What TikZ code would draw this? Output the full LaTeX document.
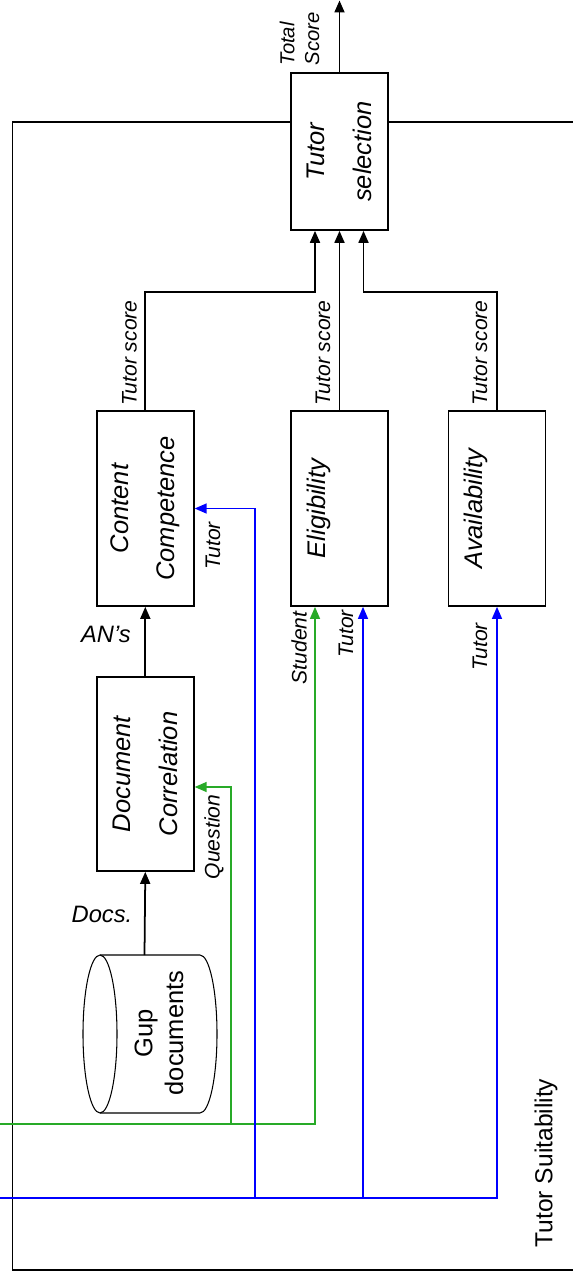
\documentclass[tikz,border=0pt]{standalone}
\usepackage{fontspec}
\setmainfont{Liberation Sans}
\usetikzlibrary{arrows.meta,calc}
\tikzset{
	blk/.style={draw, line width=1pt, minimum width=1.94cm, inner sep=0pt},
	boxtxt/.style={rotate=90, align=center, font=\fontsize{14.5}{26.5}\selectfont\itshape},
	lab/.style={rotate=90, inner sep=0pt, font=\fontsize{12}{14}\selectfont\itshape},
	hlab/.style={inner sep=0pt, font=\fontsize{13.5}{16}\selectfont\itshape},
	arr/.style={-{Triangle[length=2.4mm, width=2mm]}},
	flow/.style={line width=1pt},
	tline/.style={line width=0.8pt, color=tutorblue},
	sline/.style={line width=0.8pt, color=studgreen}
	}
\definecolor{tutorblue}{RGB}{0,0,255}
\definecolor{studgreen}{RGB}{40,170,40}

\begin{document}
\begin{tikzpicture}[x=0.02cm, y=-0.02cm]

	\useasboundingbox (0,0) rectangle (573,1278);

	% blocks
	\node[blk, minimum height=3.14cm, label={[boxtxt]center:Tutor\\selection}] (ts) at (339.5,151.5) {};
	\node[blk, minimum height=3.9cm, label={[boxtxt]center:Content\\Competence}] (cc) at (145.3,508.5) {};
	\node[blk, minimum height=3.9cm, label={[boxtxt]center:Eligibility\\\mbox{}}] (elig) at (339.5,508.5) {};
	\node[blk, minimum height=3.9cm, label={[boxtxt]center:Availability\\\mbox{}}] (avail) at (497,508.5) {};
	\node[blk, minimum height=3.88cm, label={[boxtxt]center:Document\\Correlation}] (dc) at (145.3,774) {};

	% cylinder for the documents
	\draw[line width=0.6pt] (100,1034) ellipse (17 and 79);
	\draw[line width=0.6pt] (100,955) -- (200,955) arc[start angle=-90, end angle=90, x radius=17, y radius=79] -- (100,1113);
	\node[rotate=90, align=center, font=\fontsize{14.5}{17.5}\selectfont] (gup) at (159,1033) {Gup\\documents};
	\coordinate (gupTop) at (144.5,955);

	% frame
	\coordinate (fTL) at (12.5,122);
	\coordinate (fBL) at (12.5,1270);
	\coordinate (fBR) at (573,1270);
	\coordinate (fTR) at (573,122);
	\draw[flow] (fTL -| ts.west) -- (fTL) -- (fBL) -- (fBR);
	\draw[flow] (fTR -| ts.east) -- (fTR);

	% black flow
	\coordinate (out) at (339.5,0.5);
	\draw[flow, arr] (ts.north) -- (out);
	\draw[flow, arr] (cc.north) |- ($(ts.south)+(-24.5,61)$) -- ($(ts.south)+(-24.5,0)$);
	\draw[flow, arr] (elig.north) -- (ts.south);
	\draw[flow, arr] (avail.north) |- ($(ts.south)+(24,61)$) -- ($(ts.south)+(24,0)$);
	\draw[flow, arr] (dc.north) -- (cc.south);
	\draw[flow, arr] (gupTop) -- (dc.south);

	% student input (green)
	\coordinate (stuIn) at (0,1124);
	\coordinate (gq) at (231,1124);
	\draw[sline, arr] (stuIn) -| ($(elig.south)+(-24.5,0)$);
	\draw[sline, arr] (gq) |- ($(dc.east)+(0,13)$);

	% tutor input (blue)
	\coordinate (tutIn) at (0,1198);
	\coordinate (bt1) at (255,1198);
	\coordinate (bt2) at (363,1198);
	\draw[tline, arr] (tutIn) -| (avail.south);
	\draw[tline, arr] (bt1) |- (cc.east);
	\draw[tline, arr] (bt2) -- (bt2 |- elig.south);

	% annotation
	\node[lab, align=left, font=\fontsize{11.5}{14}\selectfont\itshape] (tot) at (299.5,39) {Total\\Score};
	\node[lab] (sc1) at (129.5,353) {Tutor score};
	\node[lab] (sc2) at (323,353) {Tutor score};
	\node[lab] (sc3) at (480,353) {Tutor score};
	\node[hlab] (ans) at (106,634) {AN's};
	\node[hlab] (docs) at (102,914) {Docs.};
	\node[lab] (tut1) at (213,546) {Tutor};
	\node[lab] (stud) at (299,648) {Student};
	\node[lab] (tut2) at (346,634) {Tutor};
	\node[lab] (tut3) at (480,647) {Tutor};
	\node[lab] (ques) at (214,837) {Question};
	\node[rotate=90, inner sep=0pt, font=\fontsize{14}{17}\selectfont] (suit) at (546,1163) {Tutor Suitability};

\end{tikzpicture}
\end{document}
